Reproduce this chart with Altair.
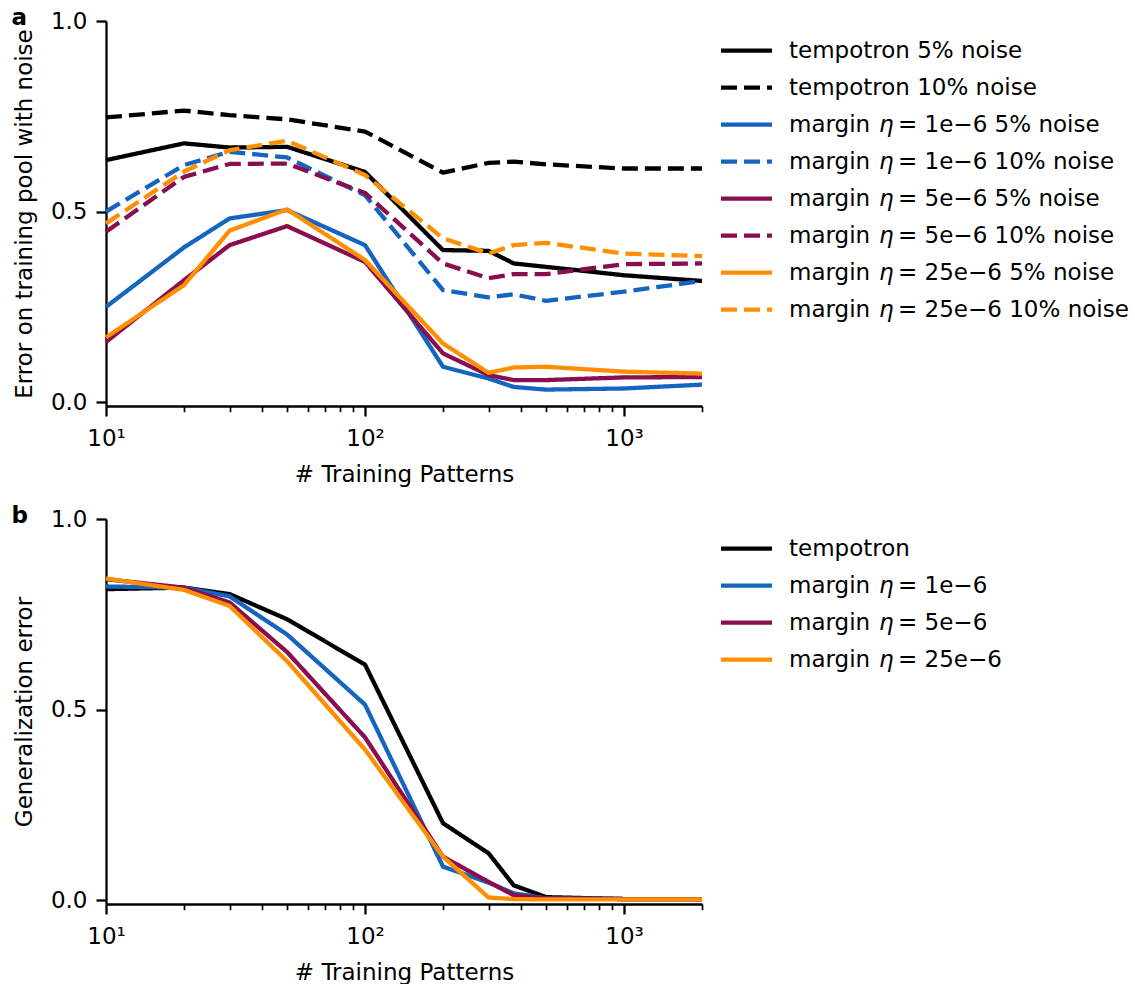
import altair as alt
import pandas as pd

FONT = "DejaVu Sans"
FS = 23

# number of training patterns (shared x values)
patterns = [10, 20, 30, 50, 100, 200, 300, 375, 500, 1000, 2000]

# panel a: error on the noisy training pool
tempo_5 = [0.635, 0.679, 0.668, 0.670, 0.604, 0.399, 0.397, 0.364, 0.355, 0.333, 0.318]
tempo_10 = [0.747, 0.765, 0.753, 0.742, 0.710, 0.602, 0.628, 0.631, 0.624, 0.613, 0.613]
m1_5 = [0.250, 0.406, 0.482, 0.504, 0.412, 0.093, 0.062, 0.040, 0.033, 0.036, 0.046]
m1_10 = [0.500, 0.622, 0.657, 0.642, 0.543, 0.294, 0.275, 0.283, 0.266, 0.290, 0.318]
m5_5 = [0.158, 0.320, 0.412, 0.462, 0.368, 0.128, 0.071, 0.058, 0.058, 0.065, 0.066]
m5_10 = [0.447, 0.591, 0.625, 0.626, 0.549, 0.364, 0.325, 0.336, 0.336, 0.362, 0.364]
m25_5 = [0.170, 0.307, 0.450, 0.506, 0.373, 0.154, 0.077, 0.091, 0.093, 0.080, 0.075]
m25_10 = [0.469, 0.605, 0.661, 0.686, 0.596, 0.430, 0.390, 0.412, 0.418, 0.390, 0.383]

# panel b: generalization error
gen_tempo = [0.816, 0.820, 0.803, 0.737, 0.618, 0.202, 0.123, 0.039, 0.008, 0.003, 0.003]
gen_m1 = [0.823, 0.820, 0.797, 0.697, 0.513, 0.088, 0.046, 0.018, 0.005, 0.003, 0.003]
gen_m5 = [0.842, 0.820, 0.781, 0.651, 0.427, 0.114, 0.048, 0.013, 0.005, 0.003, 0.003]
gen_m25 = [0.844, 0.814, 0.772, 0.627, 0.395, 0.114, 0.007, 0.003, 0.002, 0.002, 0.002]

BLACK, BLUE, PURPLE, ORANGE = "#000000", "#1565C0", "#880E4F", "#FF8F00"
SOLID, DASHED = [1, 0], [16, 7]
LW = 4.3

# series: (key, lead text, italic symbol, tail text, colour, dash, values)
series_a = [
    ("t5", "tempotron 5% noise", "", "", BLACK, SOLID, tempo_5),
    ("t10", "tempotron 10% noise", "", "", BLACK, DASHED, tempo_10),
    ("m1_5", "margin", "η", "= 1e−6 5% noise", BLUE, SOLID, m1_5),
    ("m1_10", "margin", "η", "= 1e−6 10% noise", BLUE, DASHED, m1_10),
    ("m5_5", "margin", "η", "= 5e−6 5% noise", PURPLE, SOLID, m5_5),
    ("m5_10", "margin", "η", "= 5e−6 10% noise", PURPLE, DASHED, m5_10),
    ("m25_5", "margin", "η", "= 25e−6 5% noise", ORANGE, SOLID, m25_5),
    ("m25_10", "margin", "η", "= 25e−6 10% noise", ORANGE, DASHED, m25_10),
]
series_b = [
    ("t", "tempotron", "", "", BLACK, SOLID, gen_tempo),
    ("m1", "margin", "η", "= 1e−6", BLUE, SOLID, gen_m1),
    ("m5", "margin", "η", "= 5e−6", PURPLE, SOLID, gen_m5),
    ("m25", "margin", "η", "= 25e−6", ORANGE, SOLID, gen_m25),
]

major_ticks = [10, 100, 1000]
minor_ticks = [20, 30, 40, 50, 60, 70, 80, 90, 200, 300, 400, 500, 600, 700,
               800, 900, 2000]


def x_scale():
    return alt.Scale(type="log", domain=[10, 2000], nice=False)


Y_SCALE = alt.Scale(domain=[-0.01, 1.0], nice=False, zero=False)


def x_axis_major():
    return alt.Axis(
        orient="bottom", values=major_ticks,
        labelExpr="datum.value == 10 ? '10¹' : datum.value == 100 ? '10²' : "
                  "datum.value == 1000 ? '10³' : ''",
        tickSize=10, tickWidth=2.3, tickColor="black",
        domainColor="black", domainWidth=2.3,
        labelFont=FONT, labelFontSize=FS, labelColor="black", labelPadding=11,
        labelFlush=False, labelOverlap=False, labelBound=False,
        title="# Training Patterns", titleFont=FONT, titleFontSize=FS,
        titleFontWeight="normal", titleColor="black", titlePadding=13, grid=False,
    )


def x_axis_minor():
    return alt.Axis(
        orient="bottom", values=minor_ticks, labels=False, domain=False,
        tickSize=5.7, tickWidth=1.7, tickColor="black", title=None, grid=False,
    )


def y_axis(title):
    return alt.Axis(
        values=[0, 0.5, 1.0], format=".1f",
        tickSize=10, tickWidth=2.3, tickColor="black",
        domainColor="black", domainWidth=2.3,
        labelFont=FONT, labelFontSize=FS, labelColor="black", labelPadding=9,
        title=title, titleFont=FONT, titleFontSize=FS, titleFontWeight="normal",
        titleColor="black", titlePadding=14, grid=False,
    )


def panel(series, ytitle, tag):
    field = "series_" + tag
    rows = []
    for key, lead, sym, tail, col, dash, vals in series:
        for n, v in zip(patterns, vals):
            rows.append({field: key, "n": n, "err": v})
    df = pd.DataFrame(rows)
    names = [s[0] for s in series]
    lines = alt.Chart(df).mark_line(
        strokeWidth=LW, strokeJoin="round", strokeCap="butt"
    ).encode(
        x=alt.X("n:Q", scale=x_scale(), axis=x_axis_major()),
        y=alt.Y("err:Q", scale=Y_SCALE, axis=y_axis(ytitle)),
        color=alt.Color(field + ":N",
                        scale=alt.Scale(domain=names, range=[s[4] for s in series]),
                        legend=None),
        strokeDash=alt.StrokeDash(field + ":N",
                                  scale=alt.Scale(domain=names, range=[s[5] for s in series]),
                                  legend=None),
    )
    # invisible copy of the data that carries the minor log ticks
    minor = alt.Chart(df).mark_point(opacity=0).encode(
        x=alt.X("n:Q", scale=x_scale(), axis=x_axis_minor()),
    )
    return alt.layer(lines, minor).resolve_scale(x="independent").resolve_axis(
        x="independent"
    ).properties(
        width=596, height=385,
        title=alt.Title(tag, anchor="start", font=FONT, fontSize=FS, fontWeight="bold",
                        color="black", offset=-20, dx=-2),
    )


def legend(series, tag):
    field = "series_" + tag
    df = pd.DataFrame([
        {field: s[0], "lead": s[1], "sym": s[2], "tail": s[3]} for s in series
    ])
    names = [s[0] for s in series]
    n = len(series)
    pad = 0.8
    y = alt.Y(field + ":N", scale=alt.Scale(type="point", domain=names, padding=pad),
              axis=None)
    base = alt.Chart(df)
    sym = base.mark_rule(strokeWidth=LW, strokeCap="butt").encode(
        x=alt.value(0), x2=alt.value(51), y=y,
        color=alt.Color(field + ":N",
                        scale=alt.Scale(domain=names, range=[s[4] for s in series]),
                        legend=None),
        strokeDash=alt.StrokeDash(field + ":N",
                                  scale=alt.Scale(domain=names, range=[s[5] for s in series]),
                                  legend=None),
    )
    txt = dict(align="left", baseline="middle", font=FONT, fontSize=FS, color="black")
    lead = base.mark_text(**txt).encode(x=alt.value(68), y=y, text="lead:N")
    eta = base.transform_filter("datum.sym != ''").mark_text(fontStyle="italic", **txt).encode(
        x=alt.value(158), y=y, text="sym:N")
    tail = base.transform_filter("datum.tail != ''").mark_text(**txt).encode(
        x=alt.value(177), y=y, text="tail:N")
    return alt.layer(sym, lead, eta, tail).properties(
        width=400, height=37 * (n - 1 + 2 * pad))


row_a = alt.hconcat(panel(series_a, "Error on training pool with noise", "a"),
                    legend(series_a, "a"), spacing=13)
row_b = alt.hconcat(panel(series_b, "Generalization error", "b"),
                    legend(series_b, "b"), spacing=13)

chart = alt.vconcat(row_a, row_b, spacing=19).resolve_scale(
    color="independent", strokeDash="independent"
).properties(
    padding={"left": 11, "top": 7, "right": 0, "bottom": 0}
).configure_view(stroke=None)

chart.save("out.html", embed_options={"renderer": "svg", "actions": False})
